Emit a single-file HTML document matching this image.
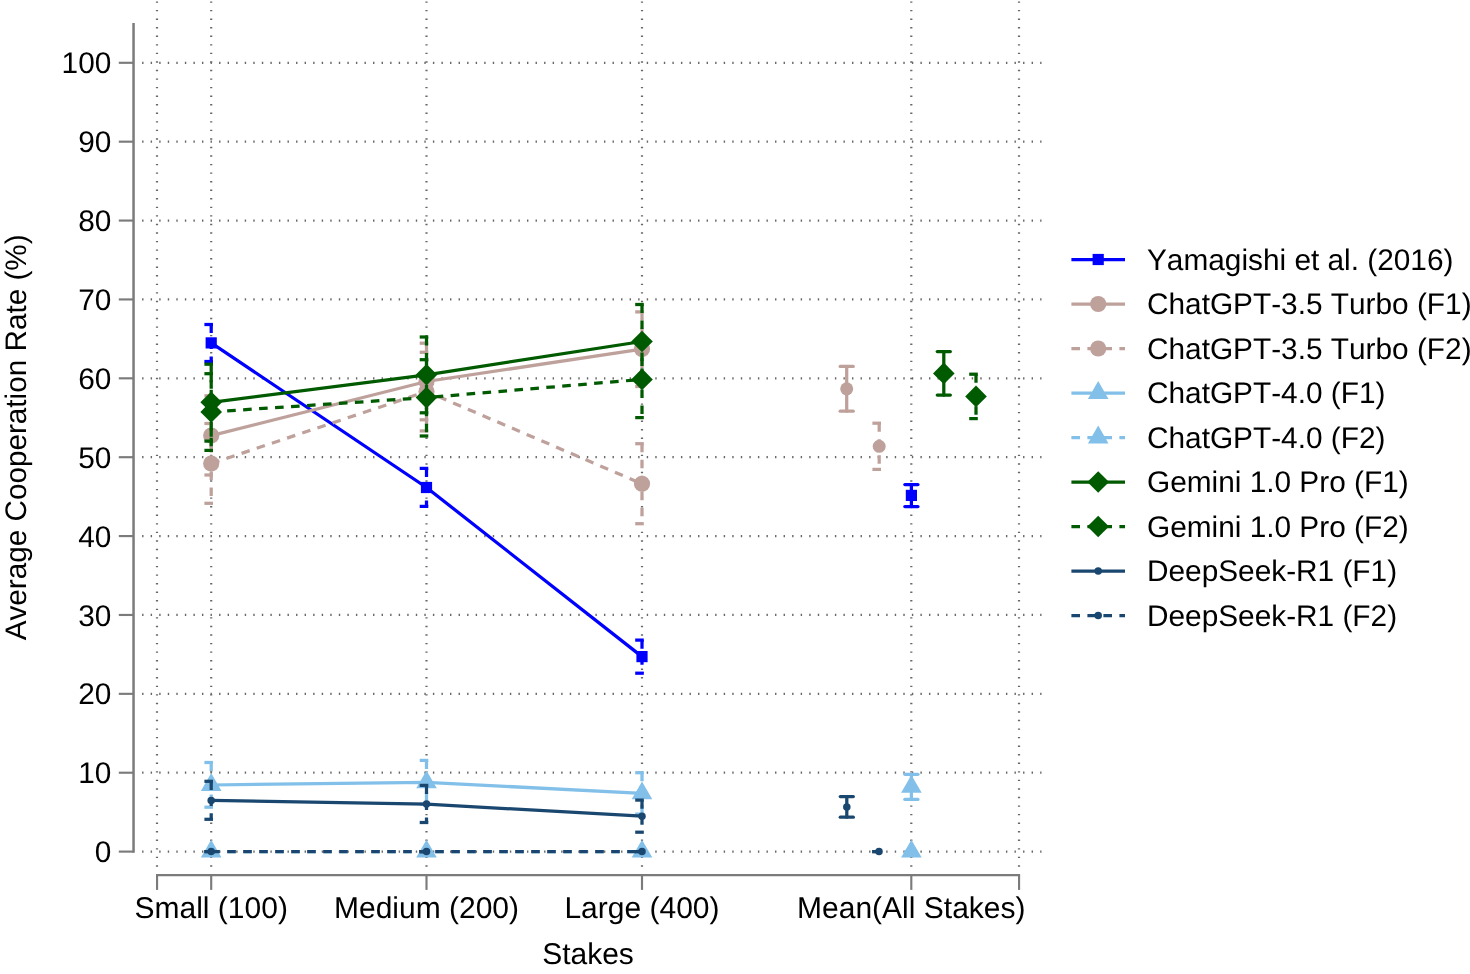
<!DOCTYPE html>
<html><head><meta charset="utf-8"><title>Average Cooperation Rate by Stakes</title>
<style>html,body{margin:0;padding:0;background:#fff;}body{width:1470px;height:974px;overflow:hidden;}svg{display:block;will-change:transform;}text{text-rendering:geometricPrecision;font-family:"Liberation Sans",sans-serif;font-size:30.0px;fill:#000000;}</style>
</head><body>
<svg width="1470" height="974" viewBox="0 0 1470 974">
<rect x="0" y="0" width="1470" height="974" fill="#ffffff"/>
<g stroke="#686868" stroke-width="2.2" fill="none" stroke-dasharray="1.4 7.153">
<line x1="142.1" y1="851.60" x2="1041.5" y2="851.60"/>
<line x1="142.1" y1="772.72" x2="1041.5" y2="772.72"/>
<line x1="142.1" y1="693.84" x2="1041.5" y2="693.84"/>
<line x1="142.1" y1="614.96" x2="1041.5" y2="614.96"/>
<line x1="142.1" y1="536.08" x2="1041.5" y2="536.08"/>
<line x1="142.1" y1="457.20" x2="1041.5" y2="457.20"/>
<line x1="142.1" y1="378.32" x2="1041.5" y2="378.32"/>
<line x1="142.1" y1="299.44" x2="1041.5" y2="299.44"/>
<line x1="142.1" y1="220.56" x2="1041.5" y2="220.56"/>
<line x1="142.1" y1="141.68" x2="1041.5" y2="141.68"/>
<line x1="142.1" y1="62.80" x2="1041.5" y2="62.80"/>
<line x1="157.00" y1="1.4" x2="157.00" y2="867.0"/>
<line x1="211.20" y1="1.4" x2="211.20" y2="867.0"/>
<line x1="426.50" y1="1.4" x2="426.50" y2="867.0"/>
<line x1="642.00" y1="1.4" x2="642.00" y2="867.0"/>
<line x1="911.30" y1="1.4" x2="911.30" y2="867.0"/>
<line x1="1019.00" y1="1.4" x2="1019.00" y2="867.0"/>
</g>
<g stroke="#7b7b7b" fill="none">
<line x1="133.55" y1="23.1" x2="133.55" y2="852.65" stroke-width="2.5"/>
<line x1="118.8" y1="851.60" x2="133.6" y2="851.60" stroke-width="2.15"/>
<line x1="118.8" y1="772.72" x2="133.6" y2="772.72" stroke-width="2.15"/>
<line x1="118.8" y1="693.84" x2="133.6" y2="693.84" stroke-width="2.15"/>
<line x1="118.8" y1="614.96" x2="133.6" y2="614.96" stroke-width="2.15"/>
<line x1="118.8" y1="536.08" x2="133.6" y2="536.08" stroke-width="2.15"/>
<line x1="118.8" y1="457.20" x2="133.6" y2="457.20" stroke-width="2.15"/>
<line x1="118.8" y1="378.32" x2="133.6" y2="378.32" stroke-width="2.15"/>
<line x1="118.8" y1="299.44" x2="133.6" y2="299.44" stroke-width="2.15"/>
<line x1="118.8" y1="220.56" x2="133.6" y2="220.56" stroke-width="2.15"/>
<line x1="118.8" y1="141.68" x2="133.6" y2="141.68" stroke-width="2.15"/>
<line x1="118.8" y1="62.80" x2="133.6" y2="62.80" stroke-width="2.15"/>
<line x1="156.0" y1="875.1" x2="1020.1" y2="875.1" stroke-width="2.4"/>
<line x1="157.05" y1="875.1" x2="157.05" y2="889.9" stroke-width="2.15"/>
<line x1="211.20" y1="875.1" x2="211.20" y2="889.9" stroke-width="2.15"/>
<line x1="426.50" y1="875.1" x2="426.50" y2="889.9" stroke-width="2.15"/>
<line x1="642.00" y1="875.1" x2="642.00" y2="889.9" stroke-width="2.15"/>
<line x1="911.30" y1="875.1" x2="911.30" y2="889.9" stroke-width="2.15"/>
<line x1="1019.05" y1="875.1" x2="1019.05" y2="889.9" stroke-width="2.15"/>
</g>
<text x="111.3" y="862.20" text-anchor="end" style="font-size:29.8px">0</text>
<text x="111.3" y="783.32" text-anchor="end" style="font-size:29.8px">10</text>
<text x="111.3" y="704.44" text-anchor="end" style="font-size:29.8px">20</text>
<text x="111.3" y="625.56" text-anchor="end" style="font-size:29.8px">30</text>
<text x="111.3" y="546.68" text-anchor="end" style="font-size:29.8px">40</text>
<text x="111.3" y="467.80" text-anchor="end" style="font-size:29.8px">50</text>
<text x="111.3" y="388.92" text-anchor="end" style="font-size:29.8px">60</text>
<text x="111.3" y="310.04" text-anchor="end" style="font-size:29.8px">70</text>
<text x="111.3" y="231.16" text-anchor="end" style="font-size:29.8px">80</text>
<text x="111.3" y="152.28" text-anchor="end" style="font-size:29.8px">90</text>
<text x="111.3" y="73.40" text-anchor="end" style="font-size:29.8px">100</text>
<text x="211.20" y="918.4" text-anchor="middle">Small (100)</text>
<text x="426.50" y="918.4" text-anchor="middle">Medium (200)</text>
<text x="642.00" y="918.4" text-anchor="middle">Large (400)</text>
<text x="911.30" y="918.4" text-anchor="middle">Mean(All Stakes)</text>
<text x="588" y="964.2" text-anchor="middle">Stakes</text>
<text transform="translate(25.5 437.4) rotate(-90)" text-anchor="middle" style="font-size:29.7px;font-kerning:none">Average Cooperation Rate (%)</text>
<g>
<g stroke="#0000ff" stroke-width="3.25" fill="none" stroke-dasharray="8.6 7.4"><line x1="211.20" y1="324.50" x2="211.20" y2="361.50"/><line x1="204.40" y1="324.50" x2="218.00" y2="324.50"/><line x1="204.40" y1="361.50" x2="218.00" y2="361.50"/></g>
<g stroke="#0000ff" stroke-width="3.25" fill="none" stroke-dasharray="8.6 7.4"><line x1="426.50" y1="468.40" x2="426.50" y2="506.40"/><line x1="419.70" y1="468.40" x2="433.30" y2="468.40"/><line x1="419.70" y1="506.40" x2="433.30" y2="506.40"/></g>
<g stroke="#0000ff" stroke-width="3.25" fill="none" stroke-dasharray="8.6 7.4"><line x1="642.00" y1="640.10" x2="642.00" y2="673.20"/><line x1="635.20" y1="640.10" x2="648.80" y2="640.10"/><line x1="635.20" y1="673.20" x2="648.80" y2="673.20"/></g>
<g stroke="#0000ff" stroke-width="3.25" fill="none" stroke-linecap="round"><line x1="911.40" y1="484.60" x2="911.40" y2="506.50"/><line x1="904.85" y1="484.60" x2="917.95" y2="484.60"/><line x1="904.85" y1="506.50" x2="917.95" y2="506.50"/></g>
<polyline points="211.20,342.90 426.50,487.50 642.00,656.60" fill="none" stroke="#0000ff" stroke-width="3.25"/>
<rect x="205.60" y="337.30" width="11.20" height="11.20" fill="#0000ff"/>
<rect x="420.90" y="481.90" width="11.20" height="11.20" fill="#0000ff"/>
<rect x="636.40" y="651.00" width="11.20" height="11.20" fill="#0000ff"/>
<rect x="905.80" y="489.80" width="11.20" height="11.20" fill="#0000ff"/>
</g>
<g>
<g stroke="#bfa19c" stroke-width="3.25" fill="none" stroke-dasharray="8.6 7.4"><line x1="211.20" y1="395.80" x2="211.20" y2="475.00"/><line x1="204.40" y1="395.80" x2="218.00" y2="395.80"/><line x1="204.40" y1="475.00" x2="218.00" y2="475.00"/></g>
<g stroke="#bfa19c" stroke-width="3.25" fill="none" stroke-dasharray="8.6 7.4"><line x1="426.50" y1="343.20" x2="426.50" y2="419.80"/><line x1="419.70" y1="343.20" x2="433.30" y2="343.20"/><line x1="419.70" y1="419.80" x2="433.30" y2="419.80"/></g>
<g stroke="#bfa19c" stroke-width="3.25" fill="none" stroke-dasharray="8.6 7.4"><line x1="642.00" y1="311.90" x2="642.00" y2="386.50"/><line x1="635.20" y1="311.90" x2="648.80" y2="311.90"/><line x1="635.20" y1="386.50" x2="648.80" y2="386.50"/></g>
<g stroke="#bfa19c" stroke-width="3.25" fill="none" stroke-linecap="round"><line x1="846.70" y1="366.40" x2="846.70" y2="411.20"/><line x1="840.15" y1="366.40" x2="853.25" y2="366.40"/><line x1="840.15" y1="411.20" x2="853.25" y2="411.20"/></g>
<polyline points="211.20,435.60 426.50,381.50 642.00,349.10" fill="none" stroke="#bfa19c" stroke-width="3.25"/>
<circle cx="211.20" cy="435.60" r="8.10" fill="#bfa19c"/>
<circle cx="426.50" cy="381.50" r="8.10" fill="#bfa19c"/>
<circle cx="642.00" cy="349.10" r="8.10" fill="#bfa19c"/>
<circle cx="846.70" cy="388.80" r="6.50" fill="#bfa19c"/>
</g>
<g>
<g stroke="#bfa19c" stroke-width="3.25" fill="none" stroke-dasharray="8.6 7.4"><line x1="211.20" y1="423.50" x2="211.20" y2="503.30"/><line x1="204.40" y1="423.50" x2="218.00" y2="423.50"/><line x1="204.40" y1="503.30" x2="218.00" y2="503.30"/></g>
<g stroke="#bfa19c" stroke-width="3.25" fill="none" stroke-dasharray="8.6 7.4"><line x1="426.50" y1="352.30" x2="426.50" y2="430.90"/><line x1="419.70" y1="352.30" x2="433.30" y2="352.30"/><line x1="419.70" y1="430.90" x2="433.30" y2="430.90"/></g>
<g stroke="#bfa19c" stroke-width="3.25" fill="none" stroke-dasharray="8.6 7.4"><line x1="642.00" y1="443.70" x2="642.00" y2="523.70"/><line x1="635.20" y1="443.70" x2="648.80" y2="443.70"/><line x1="635.20" y1="523.70" x2="648.80" y2="523.70"/></g>
<g stroke="#bfa19c" stroke-width="3.25" fill="none" stroke-dasharray="8.6 7.4"><line x1="879.20" y1="423.20" x2="879.20" y2="469.40"/><line x1="872.40" y1="423.20" x2="886.00" y2="423.20"/><line x1="872.40" y1="469.40" x2="886.00" y2="469.40"/></g>
<polyline points="211.20,463.50 426.50,391.50 642.00,483.80" fill="none" stroke="#bfa19c" stroke-width="3.25" stroke-dasharray="8.6 7.4"/>
<circle cx="211.20" cy="463.50" r="8.10" fill="#bfa19c"/>
<circle cx="426.50" cy="391.50" r="8.10" fill="#bfa19c"/>
<circle cx="642.00" cy="483.80" r="8.10" fill="#bfa19c"/>
<circle cx="879.20" cy="446.30" r="6.50" fill="#bfa19c"/>
</g>
<g>
<g stroke="#82c0e9" stroke-width="3.25" fill="none" stroke-dasharray="8.6 7.4"><line x1="211.20" y1="762.50" x2="211.20" y2="807.20"/><line x1="204.40" y1="762.50" x2="218.00" y2="762.50"/><line x1="204.40" y1="807.20" x2="218.00" y2="807.20"/></g>
<g stroke="#82c0e9" stroke-width="3.25" fill="none" stroke-dasharray="8.6 7.4"><line x1="426.50" y1="760.40" x2="426.50" y2="804.20"/><line x1="419.70" y1="760.40" x2="433.30" y2="760.40"/><line x1="419.70" y1="804.20" x2="433.30" y2="804.20"/></g>
<g stroke="#82c0e9" stroke-width="3.25" fill="none" stroke-dasharray="8.6 7.4"><line x1="642.00" y1="772.70" x2="642.00" y2="814.10"/><line x1="635.20" y1="772.70" x2="648.80" y2="772.70"/><line x1="635.20" y1="814.10" x2="648.80" y2="814.10"/></g>
<g stroke="#82c0e9" stroke-width="3.25" fill="none" stroke-linecap="round"><line x1="911.40" y1="774.30" x2="911.40" y2="799.40"/><line x1="904.85" y1="774.30" x2="917.95" y2="774.30"/><line x1="904.85" y1="799.40" x2="917.95" y2="799.40"/></g>
<polyline points="211.20,785.00 426.50,782.30 642.00,793.40" fill="none" stroke="#82c0e9" stroke-width="3.25"/>
<path d="M211.20 773.11L221.50 790.95L200.90 790.95Z" fill="#82c0e9"/>
<path d="M426.50 770.41L436.80 788.25L416.20 788.25Z" fill="#82c0e9"/>
<path d="M642.00 781.51L652.30 799.35L631.70 799.35Z" fill="#82c0e9"/>
<path d="M911.40 774.91L921.70 792.75L901.10 792.75Z" fill="#82c0e9"/>
</g>
<g>
<g stroke="#82c0e9" stroke-width="3.25" fill="none" stroke-dasharray="8.6 7.4"><line x1="211.20" y1="851.60" x2="211.20" y2="851.60"/><line x1="204.40" y1="851.60" x2="218.00" y2="851.60"/><line x1="204.40" y1="851.60" x2="218.00" y2="851.60"/></g>
<g stroke="#82c0e9" stroke-width="3.25" fill="none" stroke-dasharray="8.6 7.4"><line x1="426.50" y1="851.60" x2="426.50" y2="851.60"/><line x1="419.70" y1="851.60" x2="433.30" y2="851.60"/><line x1="419.70" y1="851.60" x2="433.30" y2="851.60"/></g>
<g stroke="#82c0e9" stroke-width="3.25" fill="none" stroke-dasharray="8.6 7.4"><line x1="642.00" y1="851.60" x2="642.00" y2="851.60"/><line x1="635.20" y1="851.60" x2="648.80" y2="851.60"/><line x1="635.20" y1="851.60" x2="648.80" y2="851.60"/></g>
<g stroke="#82c0e9" stroke-width="3.25" fill="none" stroke-dasharray="8.6 7.4"><line x1="911.40" y1="851.60" x2="911.40" y2="851.60"/><line x1="904.60" y1="851.60" x2="918.20" y2="851.60"/><line x1="904.60" y1="851.60" x2="918.20" y2="851.60"/></g>
<polyline points="211.20,851.60 426.50,851.60 642.00,851.60" fill="none" stroke="#82c0e9" stroke-width="3.25" stroke-dasharray="8.6 7.4"/>
<path d="M211.20 839.71L221.50 857.55L200.90 857.55Z" fill="#82c0e9"/>
<path d="M426.50 839.71L436.80 857.55L416.20 857.55Z" fill="#82c0e9"/>
<path d="M642.00 839.71L652.30 857.55L631.70 857.55Z" fill="#82c0e9"/>
<path d="M911.40 839.71L921.70 857.55L901.10 857.55Z" fill="#82c0e9"/>
</g>
<g>
<g stroke="#005a00" stroke-width="3.25" fill="none" stroke-dasharray="8.6 7.4"><line x1="211.20" y1="364.20" x2="211.20" y2="441.10"/><line x1="204.40" y1="364.20" x2="218.00" y2="364.20"/><line x1="204.40" y1="441.10" x2="218.00" y2="441.10"/></g>
<g stroke="#005a00" stroke-width="3.25" fill="none" stroke-dasharray="8.6 7.4"><line x1="426.50" y1="337.00" x2="426.50" y2="412.80"/><line x1="419.70" y1="337.00" x2="433.30" y2="337.00"/><line x1="419.70" y1="412.80" x2="433.30" y2="412.80"/></g>
<g stroke="#005a00" stroke-width="3.25" fill="none" stroke-dasharray="8.6 7.4"><line x1="642.00" y1="304.50" x2="642.00" y2="378.50"/><line x1="635.20" y1="304.50" x2="648.80" y2="304.50"/><line x1="635.20" y1="378.50" x2="648.80" y2="378.50"/></g>
<g stroke="#005a00" stroke-width="3.25" fill="none" stroke-linecap="round"><line x1="943.80" y1="351.50" x2="943.80" y2="395.10"/><line x1="937.25" y1="351.50" x2="950.35" y2="351.50"/><line x1="937.25" y1="395.10" x2="950.35" y2="395.10"/></g>
<polyline points="211.20,402.30 426.50,374.80 642.00,341.50" fill="none" stroke="#005a00" stroke-width="3.25"/>
<path d="M211.20 391.50L222.00 402.30L211.20 413.10L200.40 402.30Z" fill="#005a00"/>
<path d="M426.50 364.00L437.30 374.80L426.50 385.60L415.70 374.80Z" fill="#005a00"/>
<path d="M642.00 330.70L652.80 341.50L642.00 352.30L631.20 341.50Z" fill="#005a00"/>
<path d="M943.80 362.60L954.60 373.40L943.80 384.20L933.00 373.40Z" fill="#005a00"/>
</g>
<g>
<g stroke="#005a00" stroke-width="3.25" fill="none" stroke-dasharray="8.6 7.4"><line x1="211.20" y1="373.70" x2="211.20" y2="450.40"/><line x1="204.40" y1="373.70" x2="218.00" y2="373.70"/><line x1="204.40" y1="450.40" x2="218.00" y2="450.40"/></g>
<g stroke="#005a00" stroke-width="3.25" fill="none" stroke-dasharray="8.6 7.4"><line x1="426.50" y1="359.70" x2="426.50" y2="436.00"/><line x1="419.70" y1="359.70" x2="433.30" y2="359.70"/><line x1="419.70" y1="436.00" x2="433.30" y2="436.00"/></g>
<g stroke="#005a00" stroke-width="3.25" fill="none" stroke-dasharray="8.6 7.4"><line x1="642.00" y1="341.50" x2="642.00" y2="417.60"/><line x1="635.20" y1="341.50" x2="648.80" y2="341.50"/><line x1="635.20" y1="417.60" x2="648.80" y2="417.60"/></g>
<g stroke="#005a00" stroke-width="3.25" fill="none" stroke-dasharray="8.6 7.4"><line x1="976.00" y1="374.20" x2="976.00" y2="418.60"/><line x1="969.20" y1="374.20" x2="982.80" y2="374.20"/><line x1="969.20" y1="418.60" x2="982.80" y2="418.60"/></g>
<polyline points="211.20,411.90 426.50,397.60 642.00,379.40" fill="none" stroke="#005a00" stroke-width="3.25" stroke-dasharray="8.6 7.4"/>
<path d="M211.20 401.10L222.00 411.90L211.20 422.70L200.40 411.90Z" fill="#005a00"/>
<path d="M426.50 386.80L437.30 397.60L426.50 408.40L415.70 397.60Z" fill="#005a00"/>
<path d="M642.00 368.60L652.80 379.40L642.00 390.20L631.20 379.40Z" fill="#005a00"/>
<path d="M976.00 385.60L986.80 396.40L976.00 407.20L965.20 396.40Z" fill="#005a00"/>
</g>
<g>
<g stroke="#1a476f" stroke-width="3.25" fill="none" stroke-dasharray="8.6 7.4"><line x1="211.20" y1="781.30" x2="211.20" y2="819.30"/><line x1="204.40" y1="781.30" x2="218.00" y2="781.30"/><line x1="204.40" y1="819.30" x2="218.00" y2="819.30"/></g>
<g stroke="#1a476f" stroke-width="3.25" fill="none" stroke-dasharray="8.6 7.4"><line x1="426.50" y1="785.40" x2="426.50" y2="822.50"/><line x1="419.70" y1="785.40" x2="433.30" y2="785.40"/><line x1="419.70" y1="822.50" x2="433.30" y2="822.50"/></g>
<g stroke="#1a476f" stroke-width="3.25" fill="none" stroke-dasharray="8.6 7.4"><line x1="642.00" y1="800.10" x2="642.00" y2="832.20"/><line x1="635.20" y1="800.10" x2="648.80" y2="800.10"/><line x1="635.20" y1="832.20" x2="648.80" y2="832.20"/></g>
<g stroke="#1a476f" stroke-width="3.25" fill="none" stroke-linecap="round"><line x1="846.80" y1="796.60" x2="846.80" y2="817.20"/><line x1="840.25" y1="796.60" x2="853.35" y2="796.60"/><line x1="840.25" y1="817.20" x2="853.35" y2="817.20"/></g>
<polyline points="211.20,800.40 426.50,804.10 642.00,816.20" fill="none" stroke="#1a476f" stroke-width="3.25"/>
<circle cx="211.20" cy="800.40" r="3.75" fill="#1a476f"/>
<circle cx="426.50" cy="804.10" r="3.75" fill="#1a476f"/>
<circle cx="642.00" cy="816.20" r="3.75" fill="#1a476f"/>
<circle cx="846.80" cy="807.00" r="3.75" fill="#1a476f"/>
</g>
<g>
<g stroke="#1a476f" stroke-width="3.25" fill="none" stroke-dasharray="8.6 7.4"><line x1="211.20" y1="851.60" x2="211.20" y2="851.60"/><line x1="204.40" y1="851.60" x2="218.00" y2="851.60"/><line x1="204.40" y1="851.60" x2="218.00" y2="851.60"/></g>
<g stroke="#1a476f" stroke-width="3.25" fill="none" stroke-dasharray="8.6 7.4"><line x1="426.50" y1="851.60" x2="426.50" y2="851.60"/><line x1="419.70" y1="851.60" x2="433.30" y2="851.60"/><line x1="419.70" y1="851.60" x2="433.30" y2="851.60"/></g>
<g stroke="#1a476f" stroke-width="3.25" fill="none" stroke-dasharray="8.6 7.4"><line x1="642.00" y1="851.60" x2="642.00" y2="851.60"/><line x1="635.20" y1="851.60" x2="648.80" y2="851.60"/><line x1="635.20" y1="851.60" x2="648.80" y2="851.60"/></g>
<g stroke="#1a476f" stroke-width="3.25" fill="none" stroke-dasharray="8.6 7.4"><line x1="879.00" y1="851.60" x2="879.00" y2="851.60"/><line x1="872.20" y1="851.60" x2="885.80" y2="851.60"/><line x1="872.20" y1="851.60" x2="885.80" y2="851.60"/></g>
<polyline points="211.20,851.60 426.50,851.60 642.00,851.60" fill="none" stroke="#1a476f" stroke-width="3.25" stroke-dasharray="8.6 7.4"/>
<circle cx="211.20" cy="851.60" r="3.75" fill="#1a476f"/>
<circle cx="426.50" cy="851.60" r="3.75" fill="#1a476f"/>
<circle cx="642.00" cy="851.60" r="3.75" fill="#1a476f"/>
<circle cx="879.00" cy="851.60" r="3.75" fill="#1a476f"/>
</g>
<line x1="1071.4" y1="259.50" x2="1125.0" y2="259.50" stroke="#0000ff" stroke-width="3.25"/>
<rect x="1092.60" y="253.90" width="11.20" height="11.20" fill="#0000ff"/>
<text x="1147.0" y="269.90" style="font-size:29.8px;font-kerning:none">Yamagishi et al. (2016)</text>
<line x1="1071.4" y1="304.00" x2="1125.0" y2="304.00" stroke="#bfa19c" stroke-width="3.25"/>
<circle cx="1098.20" cy="304.00" r="8.10" fill="#bfa19c"/>
<text x="1147.0" y="314.40" style="font-size:29.8px;font-kerning:none">ChatGPT-3.5 Turbo (F1)</text>
<line x1="1071.4" y1="348.50" x2="1125.0" y2="348.50" stroke="#bfa19c" stroke-width="3.25" stroke-dasharray="8.6 7.4"/>
<circle cx="1098.20" cy="348.50" r="8.10" fill="#bfa19c"/>
<text x="1147.0" y="358.90" style="font-size:29.8px;font-kerning:none">ChatGPT-3.5 Turbo (F2)</text>
<line x1="1071.4" y1="393.00" x2="1125.0" y2="393.00" stroke="#82c0e9" stroke-width="3.25"/>
<path d="M1098.20 381.11L1108.50 398.95L1087.90 398.95Z" fill="#82c0e9"/>
<text x="1147.0" y="403.40" style="font-size:29.8px;font-kerning:none">ChatGPT-4.0 (F1)</text>
<line x1="1071.4" y1="437.50" x2="1125.0" y2="437.50" stroke="#82c0e9" stroke-width="3.25" stroke-dasharray="8.6 7.4"/>
<path d="M1098.20 425.61L1108.50 443.45L1087.90 443.45Z" fill="#82c0e9"/>
<text x="1147.0" y="447.90" style="font-size:29.8px;font-kerning:none">ChatGPT-4.0 (F2)</text>
<line x1="1071.4" y1="482.00" x2="1125.0" y2="482.00" stroke="#005a00" stroke-width="3.25"/>
<path d="M1098.20 471.20L1109.00 482.00L1098.20 492.80L1087.40 482.00Z" fill="#005a00"/>
<text x="1147.0" y="492.40" style="font-size:29.8px;font-kerning:none">Gemini 1.0 Pro (F1)</text>
<line x1="1071.4" y1="526.50" x2="1125.0" y2="526.50" stroke="#005a00" stroke-width="3.25" stroke-dasharray="8.6 7.4"/>
<path d="M1098.20 515.70L1109.00 526.50L1098.20 537.30L1087.40 526.50Z" fill="#005a00"/>
<text x="1147.0" y="536.90" style="font-size:29.8px;font-kerning:none">Gemini 1.0 Pro (F2)</text>
<line x1="1071.4" y1="571.00" x2="1125.0" y2="571.00" stroke="#1a476f" stroke-width="3.25"/>
<circle cx="1098.20" cy="571.00" r="3.75" fill="#1a476f"/>
<text x="1147.0" y="581.40" style="font-size:29.8px;font-kerning:none">DeepSeek-R1 (F1)</text>
<line x1="1071.4" y1="615.50" x2="1125.0" y2="615.50" stroke="#1a476f" stroke-width="3.25" stroke-dasharray="8.6 7.4"/>
<circle cx="1098.20" cy="615.50" r="3.75" fill="#1a476f"/>
<text x="1147.0" y="625.90" style="font-size:29.8px;font-kerning:none">DeepSeek-R1 (F2)</text>
</svg></body></html>
